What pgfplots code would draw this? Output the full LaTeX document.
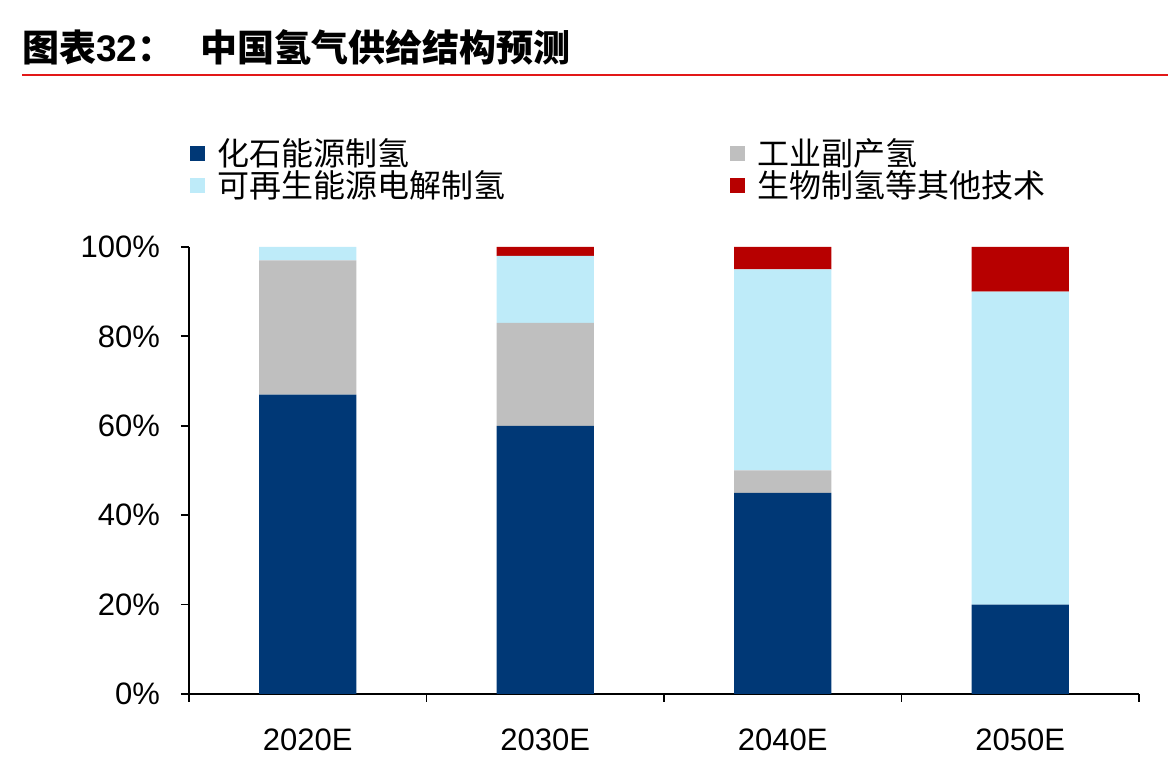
\documentclass[border=0pt]{standalone}
\usepackage{pgfplots}
\pgfplotsset{compat=1.18}
\usepackage{fontspec}
\setmainfont{Liberation Sans}
\newfontfamily\cjk{Noto Sans CJK SC}

\definecolor{cFossil}{RGB}{0,56,118}
\definecolor{cInd}{RGB}{191,191,191}
\definecolor{cRen}{RGB}{190,235,249}
\definecolor{cBio}{RGB}{183,0,0}
\definecolor{cLine}{RGB}{226,24,24}

\pgfplotsset{lg/.style={legend image code/.code={\fill[##1] (0pt,-3.75pt) rectangle (7.5pt,3.75pt);}}}

\begin{document}
\begin{tikzpicture}
\useasboundingbox (0,0) rectangle (584pt,380pt);

% title and rule
\node[anchor=west, inner sep=0pt, font=\fontsize{18.5}{20}\selectfont] at (11pt,356.5pt)
  {{\cjk\bfseries 图表}{\bfseries 32}{\cjk\bfseries ：}};
\node[anchor=west, inner sep=0pt, font=\cjk\bfseries\fontsize{18.5}{20}\selectfont] at (100pt,356.5pt)
  {中国氢气供给结构预测};
\draw[cLine, line width=1pt] (11pt,342.5pt) -- (584pt,342.5pt);

\begin{axis}[
    at={(94.5pt,33pt)}, anchor=south west,
    scale only axis,
    width=475pt, height=223.5pt,
    ybar stacked, bar width=0.41,
    xmin=-0.5, xmax=3.5,
    ymin=0, ymax=100,
    axis x line*=bottom, axis y line*=left,
    axis line style={line width=0.9pt},
    tick align=outside, major tick length=4pt,
    tick style={black, line width=0.9pt},
    xtick={-0.5,0.5,1.5,2.5,3.5}, xticklabels={},
    extra x ticks={0,1,2,3},
    extra x tick labels={2020E,2030E,2040E,2050E},
    extra x tick style={major tick length=0pt},
    ytick={0,20,40,60,80,100},
    yticklabel={\pgfmathprintnumber{\tick}\%},
    ticklabel style={font=\fontsize{15.5}{18}\selectfont},
    xticklabel style={yshift=-14pt},
    yticklabel style={xshift=-7pt},
    /pgf/number format/assume math mode=true,
    legend cell align=left,
    legend columns=2,
    legend style={at={(0.001,1.246)}, anchor=north west, draw=none, fill=none,
        inner sep=0pt, outer sep=0pt,
        font=\cjk\fontsize{16}{16}\selectfont,
        nodes={inner xsep=0pt, inner ysep=0pt, text height=14pt, text depth=2pt},
        /tikz/every odd column/.append style={column sep=6.5pt},
        /tikz/every even column/.append style={column sep=112pt}},
]
\addplot[fill=cFossil, draw=none, lg] coordinates {(0,67) (1,60) (2,45) (3,20)};
\addplot[fill=cInd, draw=none, lg] coordinates {(0,30) (1,23) (2,5) (3,0)};
\addplot[fill=cRen, draw=none, lg] coordinates {(0,3) (1,15) (2,45) (3,70)};
\addplot[fill=cBio, draw=none, lg] coordinates {(0,0) (1,2) (2,5) (3,10)};
\legend{化石能源制氢, 工业副产氢, 可再生能源电解制氢, 生物制氢等其他技术}
\end{axis}
\end{tikzpicture}
\end{document}
